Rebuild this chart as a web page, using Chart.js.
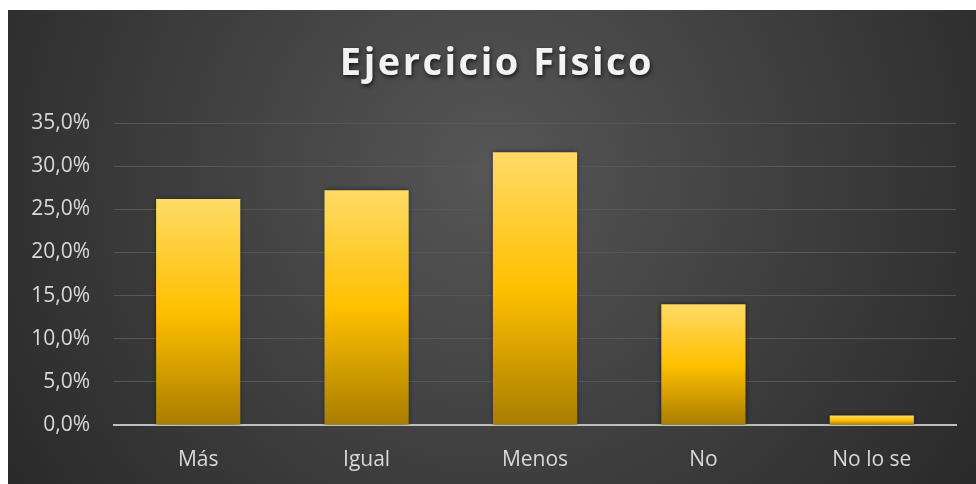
<!DOCTYPE html>
<html>
<head>
<meta charset="utf-8">
<script src="https://cdn.jsdelivr.net/npm/chart.js@4.4.1/dist/chart.umd.min.js"></script>
<style>
  html, body { margin: 0; padding: 0; background: #fff; }
  #wrap { width: 976px; height: 484px; position: relative; }
</style>
</head>
<body>
<div id="wrap"><canvas id="ejercicioChart"></canvas></div>
<script>
// datos del gráfico
const chartTitle = 'Ejercicio Fisico';
const categories = ['Más', 'Igual', 'Menos', 'No', 'No lo se'];
const values = [26.2, 27.2, 31.6, 14.0, 1.1];
const yTicks = [0, 5, 10, 15, 20, 25, 30, 35];

// fondo oscuro con degradado radial (deja el margen blanco arriba/izquierda)
const backgroundPlugin = {
  id: 'fondo',
  beforeDraw(chart) {
    const ctx = chart.ctx;
    const w = chart.width, h = chart.height;
    ctx.save();
    ctx.fillStyle = '#ffffff';
    ctx.fillRect(0, 0, w, h);
    const g = ctx.createRadialGradient(492, 170, 0, 492, 170, 620);
    g.addColorStop(0, '#565656');
    g.addColorStop(1, '#262626');
    ctx.fillStyle = g;
    ctx.fillRect(8, 10, w - 8, h - 10);
    ctx.restore();
  }
};

// título con sombra
const titlePlugin = {
  id: 'titulo',
  afterDraw(chart) {
    const ctx = chart.ctx;
    ctx.save();
    ctx.font = 'bold 38px "Open Sans"';
    ctx.letterSpacing = '2.5px';
    ctx.textAlign = 'center';
    ctx.textBaseline = 'alphabetic';
    ctx.fillStyle = '#f2f2f2';
    ctx.shadowColor = 'rgba(0,0,0,0.7)';
    ctx.shadowBlur = 4;
    ctx.shadowOffsetX = 1;
    ctx.shadowOffsetY = 2;
    ctx.fillText(chartTitle, 497, 75);
    ctx.restore();
  }
};

// sombra suave en las barras
const barShadow = {
  id: 'sombraBarras',
  beforeDatasetsDraw(chart) {
    const ctx = chart.ctx;
    ctx.save();
    ctx.shadowColor = 'rgba(0,0,0,0.55)';
    ctx.shadowBlur = 5;
  },
  afterDatasetsDraw(chart) {
    chart.ctx.restore();
  }
};

function barGradient(context) {
  const chart = context.chart;
  const area = chart.chartArea;
  if (!area || context.dataIndex === undefined) return '#ffc000';
  const y = chart.scales.y;
  const v = context.dataset.data[context.dataIndex];
  const top = y.getPixelForValue(v);
  const bottom = y.getPixelForValue(0);
  if (bottom - top < 1) return '#ffc000';
  const g = chart.ctx.createLinearGradient(0, top, 0, bottom);
  g.addColorStop(0, '#ffda66');
  g.addColorStop(0.5, '#ffc000');
  g.addColorStop(1, '#a87d00');
  return g;
}

const ctx = document.getElementById('ejercicioChart').getContext('2d');
new Chart(ctx, {
  type: 'bar',
  data: {
    labels: categories,
    datasets: [{
      data: values,
      backgroundColor: barGradient,
      borderWidth: 0,
      barPercentage: 0.5,
      categoryPercentage: 1.0
    }]
  },
  options: {
    responsive: true,
    maintainAspectRatio: false,
    animation: false,
    devicePixelRatio: 1,
    layout: { padding: { left: 0, top: 123, right: 20, bottom: 0 } },
    plugins: {
      legend: { display: false },
      title: { display: false },
      tooltip: { enabled: false }
    },
    scales: {
      y: {
        min: 0,
        max: 35,
        afterFit(scale) { scale.width = 114; },
        afterBuildTicks(scale) { scale.ticks = yTicks.map(v => ({ value: v })); },
        ticks: {
          color: '#d9d9d9',
          font: { family: '"Open Sans"', size: 21 },
          padding: 24,
          callback: v => v.toFixed(1).replace('.', ',') + '%'
        },
        grid: {
          drawTicks: false,
          color: c => c.tick && c.tick.value === 0 ? 'rgba(0,0,0,0)' : '#575757',
          lineWidth: 1
        },
        border: { display: false }
      },
      x: {
        afterFit(scale) { scale.height = 59; },
        ticks: {
          color: '#d9d9d9',
          font: { family: '"Open Sans"', size: 21 },
          padding: 22
        },
        grid: { display: false, drawTicks: false },
        border: { display: true, color: '#bfbfbf', width: 2 }
      }
    }
  },
  plugins: [backgroundPlugin, barShadow, titlePlugin]
});
</script>
</body>
</html>
